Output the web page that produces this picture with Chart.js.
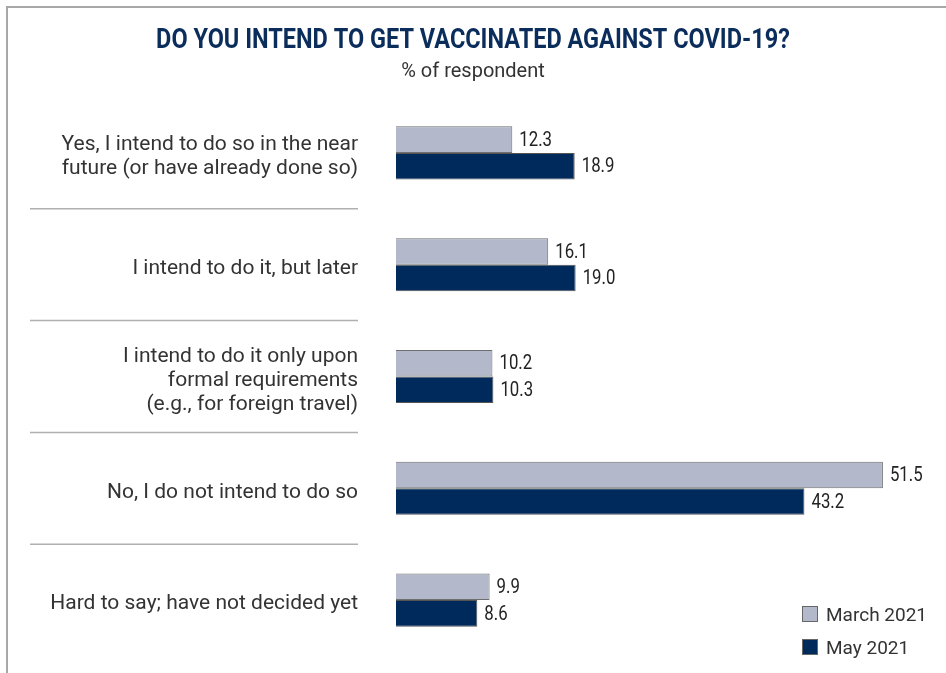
<!DOCTYPE html>
<html>
<head>
<meta charset="utf-8">
<script src="https://cdn.jsdelivr.net/npm/chart.js@4"></script>
<style>
  body { margin: 0; background: #fff; }
  #wrap { position: relative; width: 946px; height: 673px; overflow: hidden; }
  #frame { position: absolute; left: 6px; top: 6px; width: 960px; height: 700px;
           border-top: 2px solid #a8a8a8; border-left: 2px solid #a8a8a8; }
  #chart { position: absolute; left: 0; top: 0; }
  .legend { position: absolute; left: 802px; font: 19px Roboto, sans-serif; color: #333; }
  .legend span { display: inline-block; width: 14px; height: 14px; border: 1px solid #666;
                 vertical-align: -1px; margin-right: 8px; }
</style>
</head>
<body>
<div id="wrap">
  <div id="frame"></div>
  <canvas id="chart" width="946" height="673"></canvas>
  <div class="legend" style="top:603px"><span style="background:#b3b9cb"></span>March 2021</div>
  <div class="legend" style="top:636px"><span style="background:#002a5c"></span>May 2021</div>
</div>
<script>
const categories = [
  ["Yes, I intend to do so in the near", "future (or have already done so)"],
  "I intend to do it, but later",
  ["I intend to do it only upon", "formal requirements", "(e.g., for foreign travel)"],
  "No, I do not intend to do so",
  "Hard to say; have not decided yet"
];
const march2021 = [12.3, 16.1, 10.2, 51.5, 9.9];
const may2021 = [18.9, 19.0, 10.3, 43.2, 8.6];

const titleText = "DO YOU INTEND TO GET VACCINATED AGAINST COVID-19?";
const subtitleText = "% of respondent";

const navy = "#002a5c";
const lightBlue = "#b3b9cb";

// condensed text: draw with a horizontal squeeze
function narrowText(ctx, text, x, y, squeeze) {
  ctx.save();
  ctx.translate(x, y);
  ctx.scale(squeeze, 1);
  ctx.fillText(text, 0, 0);
  ctx.restore();
}

// heading block above the bars
const heading = {
  id: "heading",
  afterDraw(chart) {
    const ctx = chart.ctx;
    const cx = chart.width / 2;
    ctx.save();
    ctx.textAlign = "center";
    ctx.textBaseline = "alphabetic";
    ctx.fillStyle = "#0b2d5b";
    ctx.font = "bold 27px Roboto, sans-serif";
    narrowText(ctx, titleText, cx, 48, 0.87);
    ctx.fillStyle = "#333";
    ctx.font = "20px Roboto, sans-serif";
    ctx.fillText(subtitleText, cx, 77);
    ctx.restore();
  }
};

// thin gray rules between the answer groups, on the label side
const separators = {
  id: "separators",
  afterDraw(chart) {
    const y = chart.scales.y;
    const ctx = chart.ctx;
    ctx.save();
    ctx.strokeStyle = "#b0b0b0";
    ctx.lineWidth = 1.5;
    for (let i = 0; i < categories.length - 1; i++) {
      const py = (y.getPixelForValue(i) + y.getPixelForValue(i + 1)) / 2;
      ctx.beginPath();
      ctx.moveTo(30, py);
      ctx.lineTo(358, py);
      ctx.stroke();
    }
    ctx.restore();
  }
};

// numbers at the end of each bar
const valueLabels = {
  id: "valueLabels",
  afterDatasetsDraw(chart) {
    const ctx = chart.ctx;
    ctx.save();
    ctx.font = "21px Roboto, sans-serif";
    ctx.fillStyle = "#222";
    ctx.textBaseline = "middle";
    chart.data.datasets.forEach((ds, di) => {
      chart.getDatasetMeta(di).data.forEach((bar, i) => {
        narrowText(ctx, ds.data[i].toFixed(1), bar.x + 7, bar.y + 1, 0.8);
      });
    });
    ctx.restore();
  }
};

new Chart(document.getElementById("chart"), {
  type: "bar",
  data: {
    labels: categories,
    datasets: [
      { label: "March 2021", data: march2021, backgroundColor: lightBlue,
        borderColor: "#6f6f6f", borderWidth: 1 },
      { label: "May 2021", data: may2021, backgroundColor: navy,
        borderColor: "#555", borderWidth: 1 }
    ]
  },
  options: {
    indexAxis: "y",
    responsive: false,
    animation: false,
    layout: { padding: { top: 97, left: 0, right: 30, bottom: 17 } },
    datasets: { bar: { barPercentage: 1, categoryPercentage: 0.475 } },
    scales: {
      x: { display: false, min: 0, max: 55 },
      y: {
        grid: { display: false, drawTicks: false },
        border: { display: false },
        afterFit(scale) {
          scale.width = 396;
          scale.paddingTop = 0;
          scale.paddingBottom = 0;
        },
        ticks: {
          padding: 38,
          labelOffset: 4,
          color: "#333",
          font: { family: "Roboto, sans-serif", size: 21, lineHeight: 1.15 }
        }
      }
    },
    plugins: {
      legend: { display: false },
      tooltip: { enabled: false },
      title: { display: false }
    }
  },
  plugins: [heading, separators, valueLabels]
});
</script>
</body>
</html>
